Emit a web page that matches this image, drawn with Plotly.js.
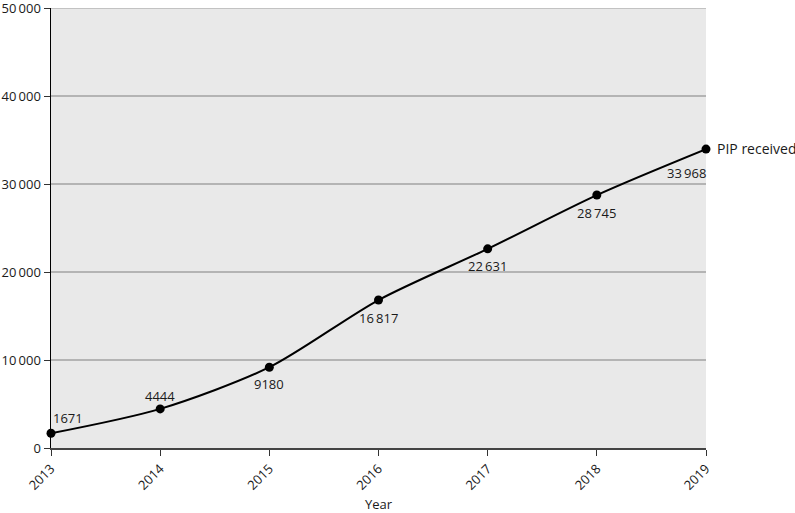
<!DOCTYPE html>
<html><head><meta charset="utf-8">
<script src="https://cdn.plot.ly/plotly-3.0.1.min.js"></script>
<style>body{margin:0;background:#fff}#chart{width:795px;height:513px}</style>
</head><body><div id="chart"></div>
<script>
var years = [2013, 2014, 2015, 2016, 2017, 2018, 2019];
var pipReceived = [1671, 4444, 9180, 16817, 22631, 28745, 33968];
var seriesName = 'PIP received';
var yTicks = [0, 10000, 20000, 30000, 40000, 50000];

function fmt(v) {
  var s = String(v);
  if (s.length > 4) s = s.slice(0, s.length - 3) + '\u2009' + s.slice(-3);
  return s;
}

var font = {family: 'Open Sans, Noto Sans, sans-serif', size: 13, color: '#1a1a1a'};

var trace = {
  x: years, y: pipReceived, type: 'scatter', mode: 'lines+markers',
  line: {shape: 'spline', smoothing: 0.8, color: '#000', width: 2},
  marker: {color: '#000', size: 9},
  cliponaxis: false, hoverinfo: 'none'
};

// label placement style (not data): anchor and pixel shift per point
var labelStyle = [
  {xanchor: 'left', yanchor: 'bottom', xshift: 0, yshift: 4},
  {xanchor: 'center', yanchor: 'bottom', xshift: 0, yshift: 2},
  {xanchor: 'center', yanchor: 'top', xshift: 0, yshift: -6},
  {xanchor: 'center', yanchor: 'top', xshift: 0, yshift: -7},
  {xanchor: 'center', yanchor: 'top', xshift: 0, yshift: -6},
  {xanchor: 'center', yanchor: 'top', xshift: 0, yshift: -7},
  {xanchor: 'right', yanchor: 'top', xshift: 2, yshift: -13}
];

var annotations = years.map(function (yr, i) {
  var st = labelStyle[i];
  return {x: yr, y: pipReceived[i], xref: 'x', yref: 'y', text: fmt(pipReceived[i]),
    showarrow: false, xanchor: st.xanchor, yanchor: st.yanchor,
    xshift: st.xshift, yshift: st.yshift, font: font};
});
annotations.push({
  x: years[years.length - 1], y: pipReceived[pipReceived.length - 1], xref: 'x', yref: 'y',
  text: seriesName, showarrow: false, xanchor: 'left', xshift: 9, yshift: 1,
  font: {family: font.family, size: 14, color: '#1a1a1a'}
});

var yMax = yTicks[yTicks.length - 1];

var layout = {
  width: 795, height: 513,
  margin: {l: 51, r: 89, t: 8, b: 65},
  paper_bgcolor: '#fff', plot_bgcolor: '#e9e9e9',
  showlegend: false, font: font,
  xaxis: {
    range: [2013, 2019], tickvals: years, ticktext: years.map(String),
    tickangle: -45, ticks: 'outside', ticklen: 6, tickcolor: '#333',
    showline: true, linecolor: '#444', linewidth: 2, showgrid: false, zeroline: false,
    title: {text: 'Year', font: font, standoff: 8}, tickfont: font
  },
  yaxis: {
    range: [0, yMax], tickvals: yTicks, ticktext: yTicks.map(fmt),
    ticks: 'outside', ticklen: 6, tickcolor: '#333', ticklabeloverflow: 'allow',
    showline: true, linecolor: '#000', linewidth: 1.5,
    showgrid: true, gridcolor: '#b4b4b4', gridwidth: 1.5, zeroline: false, tickfont: font
  },
  shapes: [{type: 'line', xref: 'paper', yref: 'y', x0: 0, x1: 1, y0: yMax, y1: yMax,
    line: {color: '#b4b4b4', width: 1.5}, layer: 'below'}],
  annotations: annotations
};

Plotly.newPlot('chart', [trace], layout, {displayModeBar: false, staticPlot: true});
</script></body></html>
